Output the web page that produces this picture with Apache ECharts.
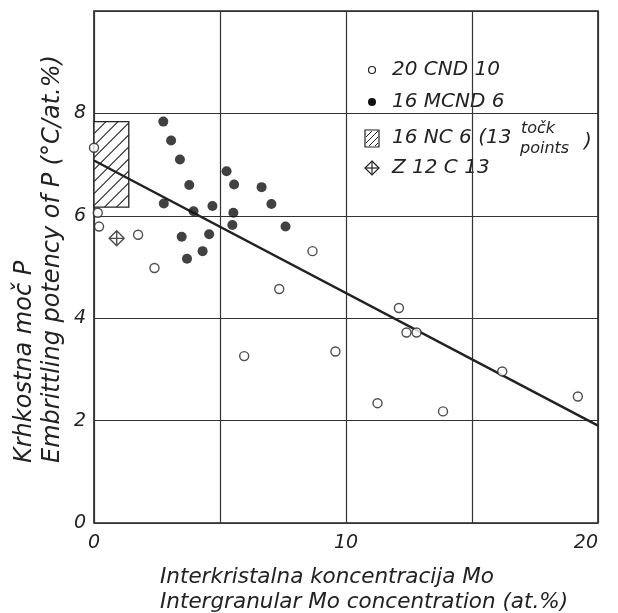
<!DOCTYPE html>
<html>
<head>
	<meta charset="utf-8" />
	<title>Krhkostna moč P</title>
	<script src="https://cdn.jsdelivr.net/npm/echarts@6/dist/echarts.min.js"></script>
</head>
<body style="margin:0;background:#fff;">
	<div id="main" style="width: 618px;height: 613px;"></div>
	<script type="text/javascript">

		// 20 CND 10 (open circles)
		var cnd = [
			[0, 7.33], [0.15, 6.06], [0.2, 5.79], [1.75, 5.63], [2.4, 4.98],
			[8.67, 5.31], [7.35, 4.57], [5.96, 3.26], [9.58, 3.35], [12.1, 4.2],
			[12.4, 3.72], [12.8, 3.72], [11.25, 2.34], [13.85, 2.18], [16.2, 2.96],
			[19.2, 2.47]
		];
		// 16 MCND 6 (filled circles)
		var mcnd = [
			[2.75, 7.84], [3.06, 7.47], [3.41, 7.10], [3.78, 6.60], [2.77, 6.24],
			[3.95, 6.09], [4.70, 6.19], [5.26, 6.87], [5.56, 6.61], [5.53, 6.06],
			[5.49, 5.82], [6.65, 6.56], [7.04, 6.23], [7.60, 5.79], [3.48, 5.59],
			[4.57, 5.64], [4.31, 5.31], [3.69, 5.16]
		];
		// 16 NC 6 - range box: [xFrom, yTop, xTo, yBottom]
		var nc = [[0, 7.84, 1.38, 6.17]];
		// Z 12 C 13
		var z12 = [[0.9, 5.56]];
		// regression line
		var fitLine = [[0, 7.08], [20, 1.9]];

		var xTicks = [0, 10, 20];
		var yMax = 10;

		var font = 'DejaVu Sans';
		var ink = '#222';

		var myChart = echarts.init(document.getElementById("main"));

		// hatched rectangle
		function renderBox(params, api) {
			var p0 = api.coord([api.value(0), api.value(1)]);
			var p1 = api.coord([api.value(2), api.value(3)]);
			var x0 = p0[0], y0 = p0[1], x1 = p1[0], y1 = p1[1];
			var kids = [{
				type: 'rect',
				shape: {x: x0, y: y0, width: x1 - x0, height: y1 - y0},
				style: {fill: '#fff', stroke: ink, lineWidth: 1.3}
			}];
			var step = 12;
			for (var c = x0 + y0 + step; c < x1 + y1; c += step) {
				var sx = Math.max(x0, c - y1), ex = Math.min(x1, c - y0);
				if (ex <= sx) continue;
				kids.push({
					type: 'line',
					shape: {x1: sx, y1: c - sx, x2: ex, y2: c - ex},
					style: {stroke: ink, lineWidth: 1.1}
				});
			}
			return {type: 'group', children: kids};
		}

		var diamondPath = 'path://M0,-1L1,0L0,1L-1,0ZM0,-1L0,1M-1,0L1,0';

		var option = {
			backgroundColor: '#fff',
			animation: false,
			grid: {
				left: 94, right: 20, top: 11, bottom: 90,
				show: true, borderColor: ink, borderWidth: 1.6
			},
			xAxis: {
				type: 'value', min: 0, max: 20, interval: 5,
				axisLine: {show: false},
				axisTick: {show: false},
				splitLine: {lineStyle: {color: '#333', width: 1.2}},
				axisLabel: {
					fontFamily: font, fontStyle: 'italic', fontSize: 19, color: ink, margin: 11,
					alignMaxLabel: 'right',
					formatter: function (v) { return xTicks.indexOf(v) >= 0 ? v : ''; }
				}
			},
			yAxis: {
				type: 'value', min: 0, max: yMax, interval: 2,
				axisLine: {show: false},
				axisTick: {show: false},
				splitLine: {lineStyle: {color: '#333', width: 1.2}},
				axisLabel: {
					fontFamily: font, fontStyle: 'italic', fontSize: 19, color: ink, margin: 8,
					formatter: function (v) { return v === yMax ? '' : v; }
				}
			},
			series: [
				{
					name: '16 NC 6', type: 'custom', renderItem: renderBox,
					data: nc, z: 1
				},
				{
					name: 'fit', type: 'line', data: fitLine, showSymbol: false,
					lineStyle: {color: ink, width: 2.5}, z: 2
				},
				{
					name: '20 CND 10', type: 'scatter', data: cnd, symbol: 'circle', symbolSize: 9,
					itemStyle: {color: '#fff', borderColor: ink, borderWidth: 1.4}, z: 3
				},
				{
					name: '16 MCND 6', type: 'scatter', data: mcnd, symbol: 'circle', symbolSize: 10,
					itemStyle: {color: '#111'}, z: 3
				},
				{
					name: 'Z 12 C 13', type: 'scatter', data: z12, symbol: diamondPath, symbolSize: 15,
					itemStyle: {color: '#fff', borderColor: ink, borderWidth: 1.4}, z: 3
				}
			],
			graphic: [
				// legend
				{type: 'circle', shape: {cx: 372, cy: 70, r: 3.5}, style: {fill: '#fff', stroke: ink, lineWidth: 1.2}},
				{type: 'circle', shape: {cx: 372, cy: 102, r: 4}, style: {fill: '#111'}},
				{type: 'rect', shape: {x: 365, y: 130, width: 14, height: 17}, style: {fill: '#fff', stroke: ink, lineWidth: 1.2}},
				{type: 'line', shape: {x1: 366, y1: 137, x2: 372, y2: 131}, style: {stroke: ink, lineWidth: 1}},
				{type: 'line', shape: {x1: 366, y1: 143, x2: 378, y2: 131}, style: {stroke: ink, lineWidth: 1}},
				{type: 'line', shape: {x1: 369, y1: 146, x2: 378, y2: 137}, style: {stroke: ink, lineWidth: 1}},
				{type: 'line', shape: {x1: 375, y1: 146, x2: 378, y2: 143}, style: {stroke: ink, lineWidth: 1}},
				{type: 'polygon', shape: {points: [[372, 161], [379, 168], [372, 175], [365, 168]]},
					style: {fill: '#fff', stroke: ink, lineWidth: 1.2}},
				{type: 'line', shape: {x1: 372, y1: 161, x2: 372, y2: 175}, style: {stroke: ink, lineWidth: 1.2}},
				{type: 'line', shape: {x1: 365, y1: 168, x2: 379, y2: 168}, style: {stroke: ink, lineWidth: 1.2}},
				{type: 'text', x: 392, y: 70, style: {text: '20 CND 10', font: 'italic 20px ' + font, fill: ink, textVerticalAlign: 'middle'}},
				{type: 'text', x: 392, y: 102, style: {text: '16 MCND 6', font: 'italic 20px ' + font, fill: ink, textVerticalAlign: 'middle'}},
				{type: 'text', x: 392, y: 138, style: {text: '16 NC 6 (13', font: 'italic 20px ' + font, fill: ink, textVerticalAlign: 'middle'}},
				{type: 'text', x: 521, y: 129, style: {text: 'točk', font: 'italic 16px ' + font, fill: ink, textVerticalAlign: 'middle'}},
				{type: 'text', x: 520, y: 149, style: {text: 'points', font: 'italic 16px ' + font, fill: ink, textVerticalAlign: 'middle'}},
				{type: 'text', x: 584, y: 142, style: {text: ')', font: 'italic 20px ' + font, fill: ink, textVerticalAlign: 'middle'}},
				{type: 'text', x: 392, y: 168, style: {text: 'Z 12 C 13', font: 'italic 20px ' + font, fill: ink, textVerticalAlign: 'middle'}},
				// axis titles
				{type: 'text', x: 160, y: 565, style: {
					text: 'Interkristalna koncentracija Mo\nIntergranular Mo concentration (at.%)',
					font: 'italic 21.5px ' + font, fill: ink, lineHeight: 25
				}},
				{type: 'text', x: 11, y: 463, rotation: Math.PI / 2, style: {
					text: 'Krhkostna moč P\nEmbrittling potency of P (°C/at.%)',
					font: 'italic 24px ' + font, fill: ink, lineHeight: 28
				}}
			]
		};

		myChart.setOption(option);

	</script>
</body>
</html>
